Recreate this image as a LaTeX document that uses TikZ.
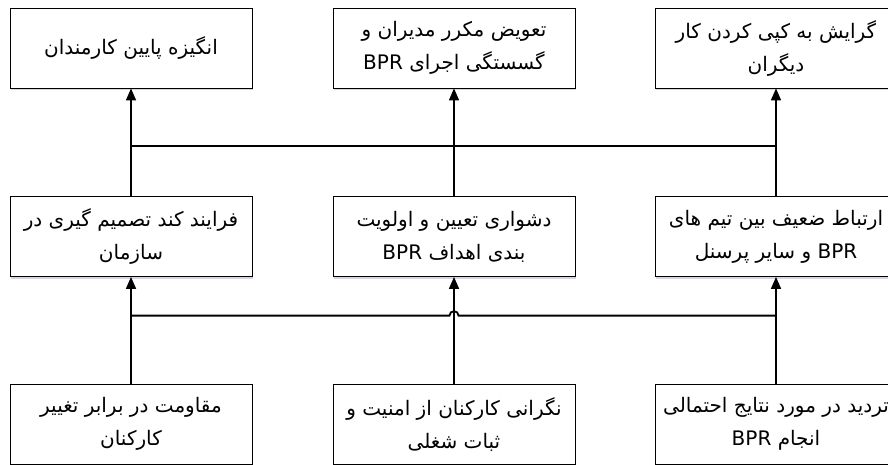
\documentclass[tikz,border=0pt]{standalone}
\usepackage{fontspec}
\newfontfamily\farsi[Script=Arabic]{DejaVu Sans}
\TeXXeTstate=1
\usetikzlibrary{arrows.meta,shadows}

\begin{document}
\begin{tikzpicture}[x=1pt, y=-1pt,
	caja/.style={rectangle, draw, line width=0.8pt, fill=white, minimum width=242pt, minimum height=80pt, align=center, font=\farsi\fontsize{20}{33}\selectfont, drop shadow={shadow xshift=1pt, shadow yshift=-2pt, fill=blue!30!gray, opacity=0.25}},
	flecha/.style={line width=1.6pt, -{Triangle[length=12pt, width=10pt]}},
	linea/.style={line width=1.8pt}]

		\useasboundingbox (0,0) rectangle (888,464);
		\clip (0,0) rectangle (888,464);

		% Nodos
		\node[caja] (motivacion) at (131,48) {\beginR انگیزه پایین کارمندان\endR};
		\node[caja] (rotacion) at (454,48) {\beginR تعویض مکرر مدیران و\endR\\\beginR گسستگی اجرای \beginL BPR\endL\endR};
		\node[caja] (copia) at (776,48) {\beginR گرایش به کپی کردن کار\endR\\\beginR دیگران\endR};

		\node[caja] (decision) at (131,236.5) {\beginR فرایند کند تصمیم گیری در\endR\\\beginR سازمان\endR};
		\node[caja] (metas) at (454,236.5) {\beginR دشواری تعیین و اولویت\endR\\\beginR بندی اهداف \beginL BPR\endL\endR};
		\node[caja] (comunicacion) at (776,236.5) {\beginR ارتباط ضعیف بین تیم های\endR\\\beginR \beginL BPR\endL{} و سایر پرسنل\endR};

		\node[caja] (resistencia) at (131,424) {\beginR مقاومت در برابر تغییر\endR\\\beginR کارکنان\endR};
		\node[caja] (seguridad) at (454,424) {\beginR نگرانی کارکنان از امنیت و\endR\\\beginR ثبات شغلی\endR};
		\node[caja] (incertidumbre) at (776,424) {\beginR تردید در مورد نتایج احتمالی\endR\\\beginR انجام \beginL BPR\endL\endR};

		\path (decision.north) ++(0,-50) coordinate (barra1);
		\path (resistencia.north) ++(0,-68) coordinate (barra2);

		% Aristas
		\draw[flecha] (decision) -- (motivacion);
		\draw[flecha] (metas) -- (rotacion);
		\draw[flecha] (comunicacion) -- (copia);
		\draw[linea] (barra1) -- (barra1 -| comunicacion.north);

		\draw[flecha] (resistencia) -- (decision);
		\draw[flecha] (seguridad) -- (metas);
		\draw[flecha] (incertidumbre) -- (comunicacion);
		\draw[linea] (barra2) -- ([xshift=-4.5pt]barra2 -| seguridad.north) arc (180:0:4.5pt) -- (barra2 -| incertidumbre.north);

	\end{tikzpicture}
\end{document}
